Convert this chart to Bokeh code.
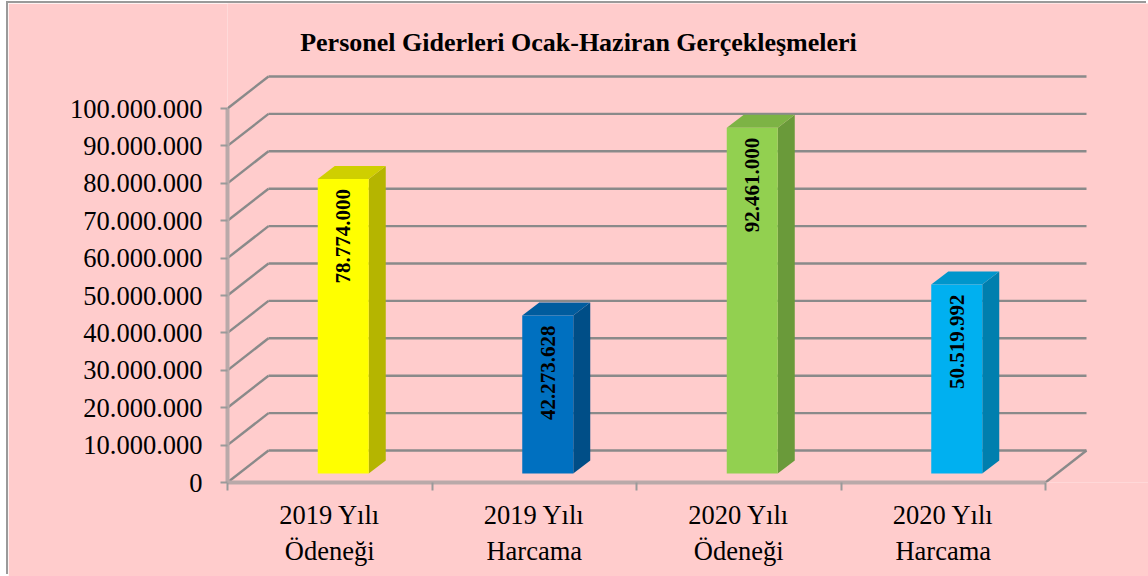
import math
from bokeh.plotting import figure
from bokeh.models import FixedTicker, Range1d, Label, ColumnDataSource
from bokeh.core.properties import value
from bokeh.embed import file_html
from bokeh.resources import INLINE

# ---------------- data ----------------
categories = ["2019 Yılı\nÖdeneği", "2019 Yılı\nHarcama", "2020 Yılı\nÖdeneği", "2020 Yılı\nHarcama"]
values = [78774000, 42273628, 92461000, 50519992]
value_labels = ["78.774.000", "42.273.628", "92.461.000", "50.519.992"]
front_colors = ["#FFFF00", "#0070C0", "#92D050", "#00B0F0"]
side_colors = ["#B5B500", "#004E87", "#6A9A3A", "#007FAE"]
top_colors = ["#CFCF00", "#005C9E", "#7DB345", "#0096CC"]
ytick_values = [0, 10000000, 20000000, 30000000, 40000000, 50000000,
                60000000, 70000000, 80000000, 90000000, 100000000]
ytick_labels = ["0", "10.000.000", "20.000.000", "30.000.000", "40.000.000", "50.000.000",
                "60.000.000", "70.000.000", "80.000.000", "90.000.000", "100.000.000"]
title_text = "Personel Giderleri Ocak-Haziran Gerçekleşmeleri"

# ---------------- layout (pixels) ----------------
PX_PER_CAT = 204.5
PX_PER_VAL = 3.74e-6
OFF_X, OFF_Y = 8, 3            # page offset of the chart box
FR_LEFT, FR_RIGHT, FR_TOP, FR_BOTTOM = 227, 1148, 3, 482
W, H = 1148 - OFF_X, 576 - OFF_Y


def dx(px):
    return px / PX_PER_CAT


def dy(px):
    return px / PX_PER_VAL


n = len(values)
DEPTH_X, DEPTH_Y = dx(41), dy(32)          # back wall offset
BAR_FX, BAR_FY = dx(13.5), dy(9)           # bar front face offset from front plane
BAR_W = dx(51)
BAR_SX, BAR_SY = dx(17), dy(13)            # bar depth

p = figure(width=W, height=H,
           x_range=Range1d(0, dx(FR_RIGHT - FR_LEFT)),
           y_range=Range1d(0, dy(FR_BOTTOM - FR_TOP)),
           output_backend="svg", toolbar_location=None,
           min_border_left=FR_LEFT - OFF_X, min_border_right=1148 - FR_RIGHT,
           min_border_top=FR_TOP - OFF_Y, min_border_bottom=H - (FR_BOTTOM - OFF_Y),
           background_fill_color="#FFCCCC", border_fill_color="#FFCCCC",
           outline_line_color=None, margin=(OFF_Y, 0, 0, OFF_X),
           styles={"box-shadow": "-2px -2px 0px 0px #9a9a9a"})
p.grid.visible = False

# ---------------- 3D walls / gridlines ----------------
grid_color = "#8A8A8A"
gx0 = [0] * len(ytick_values)
gy0 = list(ytick_values)
gx1 = [DEPTH_X] * len(ytick_values)
gy1 = [v + DEPTH_Y for v in ytick_values]
p.segment(x0=gx0, y0=gy0, x1=gx1, y1=gy1, line_color=grid_color, line_width=2.4)
p.segment(x0=gx1, y0=gy1, x1=[n + DEPTH_X] * len(ytick_values), y1=gy1,
          line_color=grid_color, line_width=2.4)
p.segment(x0=[n], y0=[0], x1=[n + DEPTH_X], y1=[DEPTH_Y], line_color=grid_color, line_width=2.4)

# ---------------- bars ----------------
centers = [i + 0.5 for i in range(n)]
lefts = [c + BAR_FX - BAR_W / 2 for c in centers]
rights = [c + BAR_FX + BAR_W / 2 for c in centers]
bottoms = [BAR_FY] * n
tops = [v + BAR_FY for v in values]

side_xs = [[r, r + BAR_SX, r + BAR_SX, r] for r in rights]
side_ys = [[b, b + BAR_SY, t + BAR_SY, t] for b, t in zip(bottoms, tops)]
top_xs = [[l, r, r + BAR_SX, l + BAR_SX] for l, r in zip(lefts, rights)]
top_ys = [[t, t, t + BAR_SY, t + BAR_SY] for t in tops]

p.patches(xs=side_xs, ys=side_ys, fill_color=side_colors, line_color=None)
p.patches(xs=top_xs, ys=top_ys, fill_color=top_colors, line_color=None)
p.quad(left=lefts, right=rights, bottom=bottoms, top=tops, fill_color=front_colors, line_color=None)

lab_src = ColumnDataSource(dict(x=[c + BAR_FX for c in centers],
                                y=[t - dy(10) for t in tops],
                                text=value_labels))
p.text(x="x", y="y", text="text", source=lab_src, angle=math.pi / 2,
       text_align="right", text_baseline="middle",
       text_font=value("Liberation Serif"), text_font_style="bold",
       text_font_size="21px", text_color="black")

# ---------------- axes ----------------
axis_color = "#B9A9A9"
ya = p.yaxis[0]
ya.ticker = FixedTicker(ticks=ytick_values)
ya.major_label_overrides = {v: s for v, s in zip(ytick_values, ytick_labels)}
ya.bounds = (0, ytick_values[-1])
ya.axis_line_color = axis_color
ya.axis_line_width = 4
ya.major_tick_out = 7
ya.major_tick_in = 0
ya.major_tick_line_color = "#9A9A9A"
ya.major_tick_line_width = 2
ya.minor_tick_line_color = None
ya.major_label_standoff = 18
ya.major_label_text_font = "Liberation Serif"
ya.major_label_text_font_size = "26.5px"
ya.major_label_text_color = "black"

xa = p.xaxis[0]
xa.ticker = FixedTicker(ticks=centers, minor_ticks=list(range(n + 1)))
xa.major_label_overrides = {c: s for c, s in zip(centers, categories)}
xa.bounds = (0, n)
xa.axis_line_color = axis_color
xa.axis_line_width = 4
xa.major_tick_line_color = None
xa.minor_tick_out = 8
xa.minor_tick_in = 0
xa.minor_tick_line_color = "#9A9A9A"
xa.minor_tick_line_width = 2
xa.major_label_standoff = 9
xa.major_label_text_font = "Liberation Serif"
xa.major_label_text_font_size = "26.5px"
xa.major_label_text_color = "black"

# ---------------- title ----------------
p.add_layout(Label(x=dx(578 - FR_LEFT), y=dy(FR_BOTTOM - 42), text=title_text,
                   text_align="center", text_baseline="middle",
                   text_font="Liberation Serif", text_font_style="bold",
                   text_font_size="26px", text_color="black"))

open("out.html", "w").write(file_html(p, INLINE))
